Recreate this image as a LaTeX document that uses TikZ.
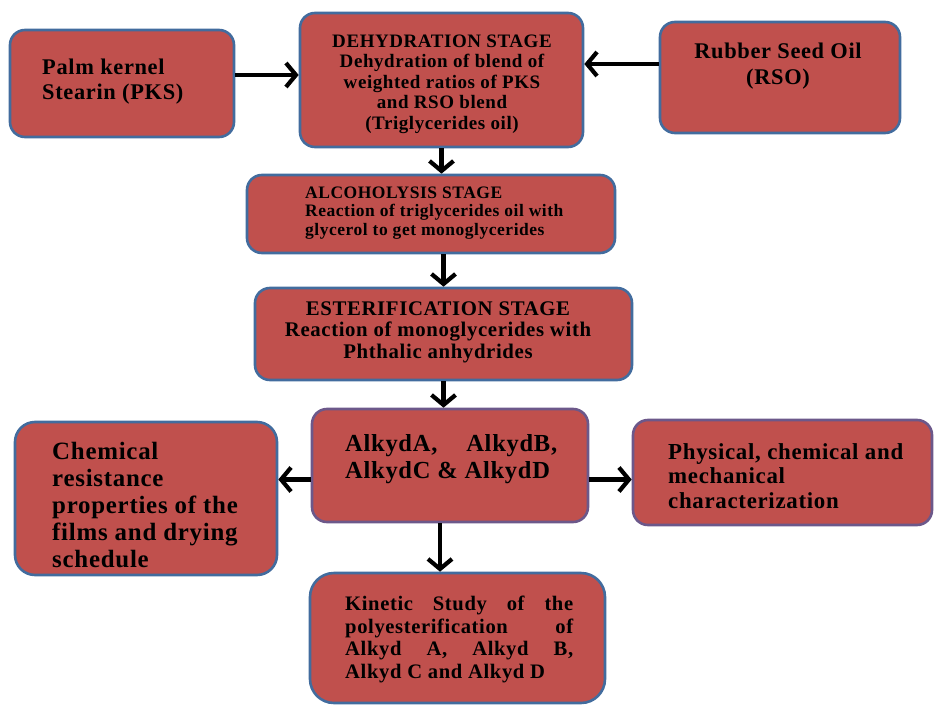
\documentclass[tikz,border=0pt]{standalone}
\usepackage{fontspec}
\setmainfont{Liberation Serif}[LetterSpace=3.0]
\usetikzlibrary{arrows.meta, positioning, calc}
\definecolor{stagered}{RGB}{192,80,77}
\definecolor{stageblue}{RGB}{66,108,158}
\definecolor{stagepurple}{RGB}{108,88,138}

\begin{document}
\begin{tikzpicture}[x=1pt, y=-1pt,
  stagebox/.style={draw=stageblue, fill=stagered, line width=2.6pt, rounded corners=15pt, inner sep=0pt},
  flow/.style={line width=4.2pt, -{Straight Barb[length=10pt, width=24pt]}},
  boxtext/.style={inner sep=0pt, text=black}]
  \useasboundingbox (0,0) rectangle (936,706);
  % Input oils
  \node[stagebox, minimum width=224pt, minimum height=107pt] (pks) at (122,83.5) {};
  \node[stagebox, minimum width=240pt, minimum height=111pt] (rso) at (780,77.5) {};
  % Process stages
  \node[stagebox, minimum width=283pt, minimum height=134pt] (dehyd) at (441.5,80) {};
  \node[stagebox, minimum width=368pt, minimum height=78pt] (alco) at (431,214) {};
  \node[stagebox, minimum width=377pt, minimum height=92pt] (ester) at (443.5,334) {};
  \node[stagebox, draw=stagepurple, minimum width=276pt, minimum height=113pt] (alkyd) at (450,465.5) {};
  % Outcomes
  \node[stagebox, rounded corners=20pt, minimum width=262pt, minimum height=153pt] (chem) at (146,498.5) {};
  \node[stagebox, draw=stagepurple, minimum width=299pt, minimum height=105pt] (phys) at (782.5,472.5) {};
  \node[stagebox, rounded corners=24pt, minimum width=295pt, minimum height=130pt] (kin) at (457.5,638) {};
  % Labels
  \node[boxtext, anchor=north west, align=left, font=\bfseries\fontsize{22.4}{25}\selectfont] (pkstext) at (42,59)
    {Palm kernel\\Stearin (PKS)};
  \node[boxtext, anchor=north, align=center, font=\bfseries\fontsize{22.4}{26}\selectfont] (rsotext) at (778,42.5)
    {Rubber Seed Oil\\(RSO)};
  \node[boxtext, anchor=north, align=center, font=\bfseries\fontsize{19}{20.4}\selectfont] (dehydtext) at (442,34.8)
    {DEHYDRATION STAGE\\Dehydration of blend of\\weighted ratios of PKS\\and RSO blend\\(Triglycerides oil)};
  \node[boxtext, anchor=north west, align=left, font=\bfseries\fontsize{17.5}{18.5}\selectfont] (alcotext) at (305,186.6)
    {ALCOHOLYSIS STAGE\\Reaction of triglycerides oil with\\glycerol to get monoglycerides};
  \node[boxtext, anchor=north, align=center, font=\bfseries\fontsize{20.8}{21.5}\selectfont] (estertext) at (438,301.3)
    {ESTERIFICATION STAGE\\Reaction of monoglycerides with\\Phthalic anhydrides};
  \node[boxtext, anchor=north west, align=left, font=\bfseries\fontsize{24.5}{27}\selectfont] (alkydtext) at (345,434)
    {\makebox[212pt][s]{AlkydA, AlkydB,}\\AlkydC \& AlkydD};
  \node[boxtext, anchor=north west, align=left, font=\bfseries\fontsize{24.9}{27}\selectfont] (chemtext) at (52,441.7)
    {Chemical\\resistance\\properties of the\\films and drying\\schedule};
  \node[boxtext, anchor=north west, align=left, font=\bfseries\fontsize{22.9}{24.5}\selectfont] (phystext) at (668,443.2)
    {Physical, chemical and\\mechanical\\characterization};
  \node[boxtext, anchor=north west, align=left, font=\bfseries\fontsize{20.6}{22.7}\selectfont] (kintext) at (345,595.6)
    {\makebox[228pt][s]{Kinetic Study of the}\\\makebox[228pt][s]{polyesterification of}\\\makebox[228pt][s]{Alkyd A, Alkyd B,}\\Alkyd C and Alkyd D};
  % Arrows
  \draw[flow] ($(pks.east)+(0,-8.5)$) -- ($(pks.east -| dehyd.west)+(0,-8.5)$);
  \draw[flow] ($(rso.west)+(0,-13.5)$) -- ($(rso.west -| dehyd.east)+(0,-13.5)$);
  \draw[flow] (dehyd.south) -- (dehyd.south |- alco.north);
  \draw[flow] (ester.north |- alco.south) -- (ester.north);
  \draw[flow] (ester.south) -- (ester.south |- alkyd.north);
  \draw[flow] ($(alkyd.west)+(0,14)$) -- ($(alkyd.west -| chem.east)+(0,14)$);
  \draw[flow] ($(alkyd.east)+(0,14)$) -- ($(alkyd.east -| phys.west)+(0,14)$);
  \draw[flow] ($(alkyd.south)+(-10,0)$) -- ($(alkyd.south |- kin.north)+(-10,0)$);
\end{tikzpicture}
\end{document}
